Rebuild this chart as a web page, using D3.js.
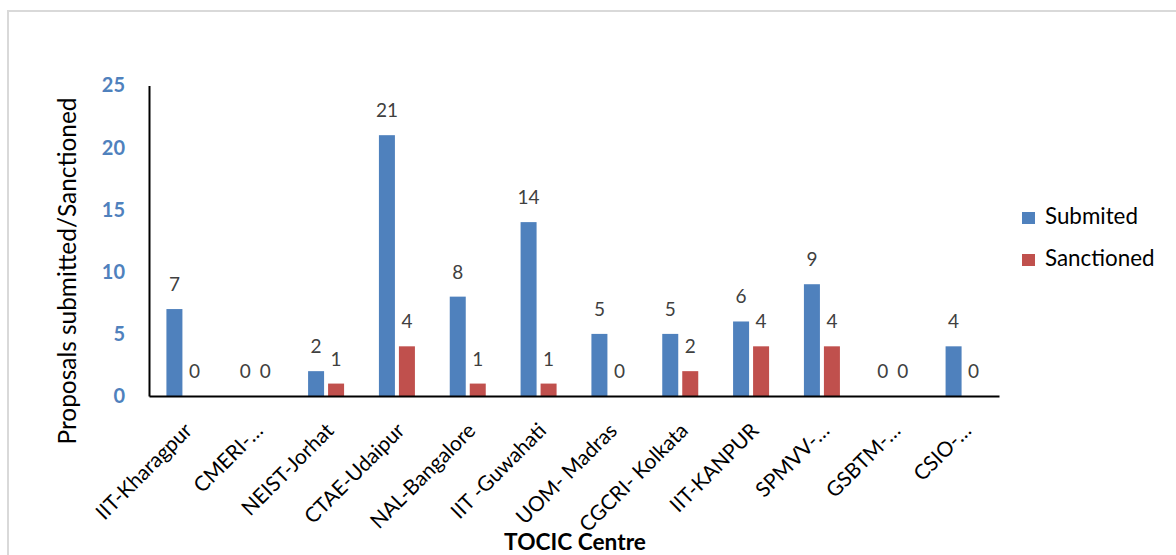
<!DOCTYPE html>
<html><head><meta charset="utf-8">
<script src="https://cdn.jsdelivr.net/npm/d3@7"></script>
<style>
html,body{margin:0;padding:0;background:#fff;}
svg{display:block;font-family:Lato,"Open Sans",sans-serif;}
</style></head>
<body>
<script>
const categories = ["IIT-Kharagpur","CMERI-…","NEIST-Jorhat","CTAE-Udaipur","NAL-Bangalore","IIT -Guwahati","UOM- Madras","CGCRI- Kolkata","IIT-KANPUR","SPMVV-…","GSBTM-…","CSIO-…"];
const submitted = [7,0,2,21,8,14,5,5,6,9,0,4];
const sanctioned = [0,0,1,4,1,1,0,2,4,4,0,0];
const seriesNames = ["Submited","Sanctioned"];
const yTicks = [0,5,10,15,20,25];

const W = 1176, H = 555;
const svg = d3.select("body").append("svg").attr("width", W).attr("height", H);

// size a font so that a text's length matches a target length
function fitSize(sel, base, target) {
  sel.attr("font-size", base);
  const len = sel.node().getComputedTextLength();
  return len > 0 ? base * target / len : base;
}

// outer border
svg.append("path").attr("d","M8,560 L8,11 L1180,11").attr("fill","none").attr("stroke","#d9d9d9").attr("stroke-width",2);

const x = d3.scaleBand().domain(categories).range([149, 999]);
const y = d3.scaleLinear().domain([0, 25]).range([396, 85.5]);
const barW = 16, gap = 4;
const colors = ["#4f81bd", "#c0504d"];
const series = [submitted, sanctioned];

series.forEach((vals, si) => {
  const off = si === 0 ? -(barW + gap / 2) : gap / 2;
  const g = svg.append("g");
  g.selectAll("rect").data(vals).join("rect")
    .attr("x", (d, i) => x(categories[i]) + x.bandwidth() / 2 + off)
    .attr("y", d => y(d))
    .attr("width", barW)
    .attr("height", d => y(0) - y(d))
    .attr("fill", colors[si]);
  g.selectAll("text").data(vals).join("text")
    .attr("x", (d, i) => x(categories[i]) + x.bandwidth() / 2 + off + barW / 2)
    .attr("y", d => y(d) - 18)
    .attr("text-anchor", "middle")
    .attr("font-size", 19)
    .attr("fill", "#404040")
    .text(d => d);
});

// Y axis
const yAxis = svg.append("g").attr("transform", "translate(149,0)")
  .call(d3.axisLeft(y).tickValues(yTicks).tickSize(0).tickPadding(24));
yAxis.select(".domain").attr("stroke", "#000").attr("stroke-width", 2);
yAxis.selectAll("text").attr("font-size", 20).attr("font-weight", "bold")
  .attr("fill", "#4f81bd").attr("font-family", "Lato, sans-serif");

// X axis
const xAxis = svg.append("g").attr("transform", "translate(0,396)")
  .call(d3.axisBottom(x).tickSize(0).tickPadding(0));
xAxis.select(".domain").attr("stroke", "#000").attr("stroke-width", 2);
const xLabels = xAxis.selectAll("text")
  .attr("fill", "#000").attr("font-family", "Lato, sans-serif")
  .attr("text-anchor", "end")
  .attr("dy", null).attr("y", null)
  .attr("transform", "translate(9,36) rotate(-45)");
const refLabel = xLabels.filter(d => d === "NEIST-Jorhat");
const xfs = Math.max(18, Math.min(23, fitSize(refLabel, 21, 120)));
xLabels.attr("font-size", xfs);

// axis titles
const yTitle = svg.append("text").attr("transform", "translate(76,271) rotate(-90)")
  .attr("text-anchor", "middle").attr("fill", "#000")
  .text("Proposals submitted/Sanctioned");
yTitle.attr("font-size", Math.max(20, Math.min(27, fitSize(yTitle, 24, 347))));
const xTitle = svg.append("text").attr("x", 575).attr("y", 550)
  .attr("text-anchor", "middle").attr("font-weight", "bold").attr("fill", "#000")
  .text("TOCIC Centre");
xTitle.attr("font-size", Math.max(19, Math.min(25, fitSize(xTitle, 22, 142))));

// legend
const leg = svg.append("g");
const legTexts = [];
seriesNames.forEach((n, i) => {
  const gy = 212 + i * 42;
  leg.append("rect").attr("x", 1022).attr("y", gy).attr("width", 13).attr("height", 12).attr("fill", colors[i]);
  legTexts.push(leg.append("text").attr("x", 1045).attr("y", gy + 12).attr("fill", "#000").text(n));
});
const lfs = Math.max(19, Math.min(24, fitSize(legTexts[0], 22, 93)));
legTexts.forEach(t => t.attr("font-size", lfs));
</script>
</body></html>
